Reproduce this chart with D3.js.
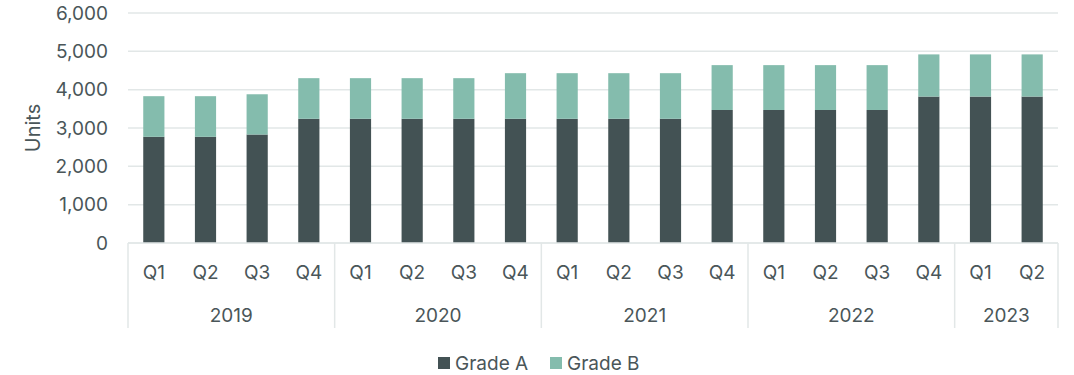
<!DOCTYPE html>
<html lang="en">
<head>
    <meta charset="UTF-8">
    <title>units by grade</title>
    <script src="https://d3js.org/d3.v7.min.js"></script>
    <style>
        html, body {
            margin: 0;
            padding: 0;
            background: #fff;
            font-family: Inter, Roboto, sans-serif;
        }
    </style>
</head>
<body>
<script>
    // data
    const years = ["2019", "2020", "2021", "2022", "2023"];
    const quarters = ["Q1", "Q2", "Q3", "Q4", "Q1", "Q2", "Q3", "Q4", "Q1", "Q2", "Q3", "Q4",
        "Q1", "Q2", "Q3", "Q4", "Q1", "Q2"];
    const quarterYears = ["2019", "2019", "2019", "2019", "2020", "2020", "2020", "2020",
        "2021", "2021", "2021", "2021", "2022", "2022", "2022", "2022", "2023", "2023"];
    const gradeA = [2770, 2770, 2830, 3240, 3240, 3240, 3240, 3240, 3240, 3240, 3240, 3470,
        3470, 3470, 3470, 3820, 3820, 3820];
    const gradeB = [1060, 1060, 1050, 1060, 1060, 1060, 1060, 1190, 1190, 1190, 1190, 1170,
        1170, 1170, 1170, 1100, 1100, 1100];
    const yTicks = [0, 1000, 2000, 3000, 4000, 5000, 6000];
    const seriesNames = ["Grade A", "Grade B"];
    const seriesColors = ["#435254", "#84bcad"];

    const width = 1074, height = 375;
    const margin = {top: 13, right: 16, bottom: 132, left: 128};
    const textColor = "#4a5659";
    const gridColor = "#e2e7e7";
    const fontSize = "19px";

    const svg = d3.select("body").append("svg")
        .attr("width", width)
        .attr("height", height)
        .style("display", "block");

    const rows = quarters.map((q, i) => ({key: i, q: q, year: quarterYears[i], a: gradeA[i], b: gradeB[i]}));

    const x = d3.scaleBand()
        .domain(rows.map(d => d.key))
        .range([margin.left, width - margin.right])
        .paddingInner(0.59)
        .paddingOuter(0.295);

    const y = d3.scaleLinear()
        .domain([0, 6000])
        .range([height - margin.bottom, margin.top]);

    // grid lines
    svg.append("g")
        .selectAll("line")
        .data(yTicks)
        .join("line")
        .attr("x1", margin.left)
        .attr("x2", width - margin.right)
        .attr("y1", d => y(d))
        .attr("y2", d => y(d))
        .attr("stroke", gridColor)
        .attr("stroke-width", 1.5);

    // y tick labels
    svg.append("g")
        .selectAll("text")
        .data(yTicks)
        .join("text")
        .attr("x", margin.left - 20)
        .attr("y", d => y(d))
        .attr("dy", "0.35em")
        .attr("text-anchor", "end")
        .attr("fill", textColor)
        .style("font-size", fontSize)
        .text(d => d3.format(",")(d));

    svg.append("text")
        .attr("transform", `translate(40,${y(3000)}) rotate(-90)`)
        .attr("text-anchor", "middle")
        .attr("fill", textColor)
        .style("font-size", "20px")
        .text("Units");

    // stacked bars
    const stack = d3.stack().keys(["a", "b"])(rows);

    svg.append("g")
        .selectAll("g")
        .data(stack)
        .join("g")
        .attr("fill", (d, i) => seriesColors[i])
        .selectAll("rect")
        .data(d => d)
        .join("rect")
        .attr("x", d => x(d.data.key))
        .attr("width", x.bandwidth())
        .attr("y", d => y(d[1]))
        .attr("height", d => y(d[0]) - y(d[1]));

    // category axis
    const axisY = y(0);
    const step = x.step();
    const x0 = margin.left, x1 = width - margin.right;
    const axis = svg.append("g");

    axis.append("line")
        .attr("x1", x0).attr("x2", x1)
        .attr("y1", axisY).attr("y2", axisY)
        .attr("stroke", gridColor)
        .attr("stroke-width", 1.5);

    // year boundaries
    const bounds = [0];
    years.forEach(yr => bounds.push(bounds[bounds.length - 1] + quarterYears.filter(d => d === yr).length));

    axis.selectAll("line.sep")
        .data(bounds)
        .join("line")
        .attr("class", "sep")
        .attr("x1", d => x0 + d * step)
        .attr("x2", d => x0 + d * step)
        .attr("y1", axisY)
        .attr("y2", axisY + 85)
        .attr("stroke", gridColor)
        .attr("stroke-width", 1.5);

    axis.selectAll("text.q")
        .data(rows)
        .join("text")
        .attr("class", "q")
        .attr("x", d => x(d.key) + x.bandwidth() / 2)
        .attr("y", axisY + 36)
        .attr("text-anchor", "middle")
        .attr("fill", textColor)
        .style("font-size", fontSize)
        .text(d => d.q);

    axis.selectAll("text.yr")
        .data(years)
        .join("text")
        .attr("class", "yr")
        .attr("x", (d, i) => x0 + (bounds[i] + bounds[i + 1]) / 2 * step)
        .attr("y", axisY + 79)
        .attr("text-anchor", "middle")
        .attr("fill", textColor)
        .style("font-size", fontSize)
        .text(d => d);

    // legend
    const legend = svg.append("g").attr("transform", "translate(438,357)");
    const legendX = [0, 112];
    const item = legend.selectAll("g")
        .data(seriesNames)
        .join("g")
        .attr("transform", (d, i) => `translate(${legendX[i]},0)`);
    item.append("rect")
        .attr("width", 12)
        .attr("height", 12)
        .attr("fill", (d, i) => seriesColors[i]);
    item.append("text")
        .attr("x", 17)
        .attr("y", 6)
        .attr("dy", "0.35em")
        .attr("fill", textColor)
        .style("font-size", fontSize)
        .text(d => d);
</script>
</body>
</html>
